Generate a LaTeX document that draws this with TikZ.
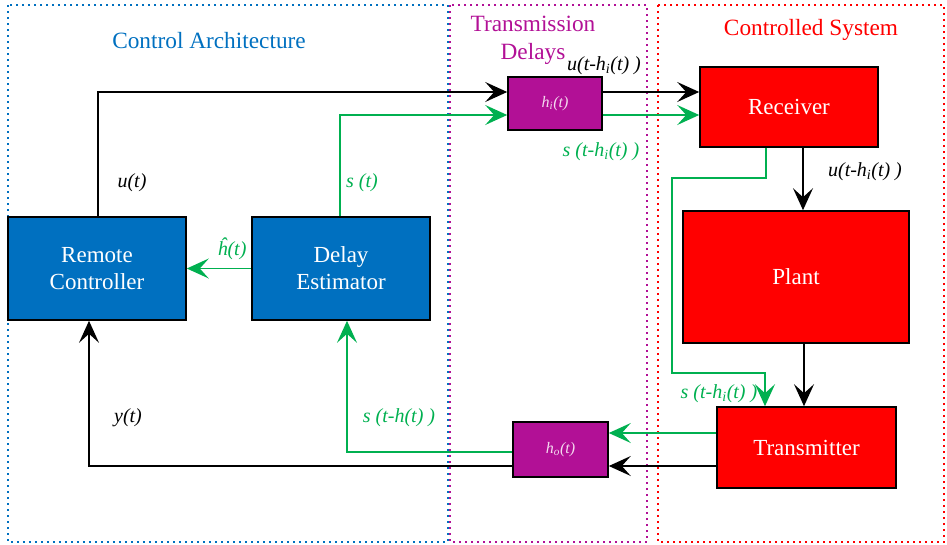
\documentclass[tikz,border=0pt]{standalone}
\usepackage{fontspec}
\setmainfont{Liberation Serif}
\newfontfamily\tnr{Liberation Serif}
\usetikzlibrary{arrows.meta,calc}
\definecolor{cblue}{RGB}{0,112,192}
\definecolor{cgreen}{RGB}{0,176,80}
\definecolor{cpurp}{RGB}{178,16,150}
\definecolor{cred}{RGB}{255,0,0}
\tikzset{
  frame/.style={line width=1.6pt, dash pattern=on 1.6pt off 4.4pt},
  blockb/.style={draw=black, line width=1.6pt, fill=cblue, text=white, align=center, inner sep=0pt,
     font=\tnr\fontsize{23}{27}\selectfont},
  blockr/.style={draw=black, line width=1.6pt, fill=cred, text=white, align=center, inner sep=0pt,
     font=\tnr\fontsize{23}{27}\selectfont},
  blockp/.style={draw=black, line width=1.6pt, fill=cpurp, text=white!85!cpurp, inner sep=0pt,
     font=\tnr\fontsize{16}{18}\selectfont\itshape},
  conn/.style={line width=1.5pt, -{Stealth[length=22pt,width=20pt,inset=9pt]}},
  lbl/.style={font=\tnr\fontsize{20}{24}\selectfont\itshape, inner sep=0pt},
  ttl/.style={font=\tnr\fontsize{23.3}{27.5}\selectfont, inner sep=0pt, align=center}
}
\begin{document}
\begin{tikzpicture}[x=1pt,y=-1pt]
\useasboundingbox (0,0) rectangle (947,544);
% frames
\draw[frame, draw=cblue] (8,5) rectangle (448,542);
\draw[frame, draw=cpurp] (450,5) rectangle (647,542);
\draw[frame, draw=cred] (658,5) rectangle (944,542);
% titles
\node[ttl, text=cblue] (t1) at (209,41) {Control Architecture};
\node[ttl, text=cpurp] (t2) at (533,40.5) {Transmission\\Delays};
\node[ttl, text=cred] (t3) at (811,30) {Controlled System};
% blocks
\node[blockb, minimum width=178pt, minimum height=103pt] (rc) at (97,268.5) {Remote\\Controller};
\node[blockb, minimum width=178pt, minimum height=103pt] (de) at (341,268.5) {Delay\\Estimator};
\node[blockp, minimum width=94pt, minimum height=53pt] (hi) at (555,103.5) {h\textsubscript{i}(t)};
\node[blockp, minimum width=95pt, minimum height=55pt] (ho) at (560.5,449.5) {h\textsubscript{o}(t)};
\node[blockr, minimum width=178pt, minimum height=80pt] (rx) at (789,107) {Receiver};
\node[blockr, minimum width=226pt, minimum height=132pt] (pl) at (796,277) {Plant};
\node[blockr, minimum width=179pt, minimum height=81pt] (tx) at (806.5,447.5) {Transmitter};
% helper coordinates
\coordinate (hiU) at ([yshift=11.5pt]hi.west);
\coordinate (hiS) at ([yshift=-11.5pt]hi.west);
\coordinate (rxG) at ([xshift=-23pt]rx.south);
\coordinate (rxB) at ([xshift=14pt]rx.south);
\coordinate (txG) at ([xshift=-41.5pt]tx.north);
\coordinate (txB) at ([xshift=-2.5pt]tx.north);
\coordinate (txGw) at ([yshift=14.5pt]tx.west);
\coordinate (txBw) at ([yshift=-18.5pt]tx.west);
\coordinate (deS) at ([xshift=6pt]de.south);
\coordinate (rcY) at ([xshift=-8pt]rc.south);
\coordinate (rcU) at ([xshift=1pt]rc.north);
\coordinate (deN) at ([xshift=-1pt]de.north);
\coordinate (gL) at (672,178);
\coordinate (gB) at (672,373);
% connectors
\draw[conn] (rcU) |- (hiU);
\draw[conn] (hi.east |- hiU) -- (rx.west |- hiU);
\draw[conn, draw=cgreen] (deN) |- (hiS);
\draw[conn, draw=cgreen] (hi.east |- hiS) -- (rx.west |- hiS);
\draw[conn, draw=cgreen] (de.west) -- (rc.east);
\draw[conn] (rxB) -- (rxB |- pl.north);
\draw[conn] (pl.south -| txB) -- (txB);
\draw[conn, draw=cgreen] (rxG) |- (gL) -- (gB) -| (txG);
\draw[conn, draw=cgreen] (txGw) -- (txGw -| ho.east);
\draw[line width=1.5pt, draw=cgreen] ([yshift=-2.5pt]ho.west) -| ([yshift=-20pt]deS);
\draw[conn, draw=cgreen] ([yshift=-2.5pt]ho.west -| deS) -- (deS);
\draw[conn] (txBw) -- (txBw -| ho.east);
\draw[conn] (ho.west |- txBw) -| (rcY);
% labels
\node[lbl] (l1) at (132,183) {u(t)};
\node[lbl, text=cgreen] (l2) at (362,183) {s (t)};
\node[lbl, text=cgreen] (l3) at (232,249) {\^{h}(t)};
\node[lbl] (l4) at (604,66) {u(t-h\textsubscript{i}(t) )};
\node[lbl, text=cgreen] (l5) at (601,152) {s (t-h\textsubscript{i}(t) )};
\node[lbl] (l6) at (865,172) {u(t-h\textsubscript{i}(t) )};
\node[lbl, text=cgreen] (l7) at (719,394) {s (t-h\textsubscript{i}(t) )};
\node[lbl, text=cgreen] (l8) at (399,418) {s (t-h(t) )};
\node[lbl] (l9) at (128,418) {y(t)};
\end{tikzpicture}
\end{document}
